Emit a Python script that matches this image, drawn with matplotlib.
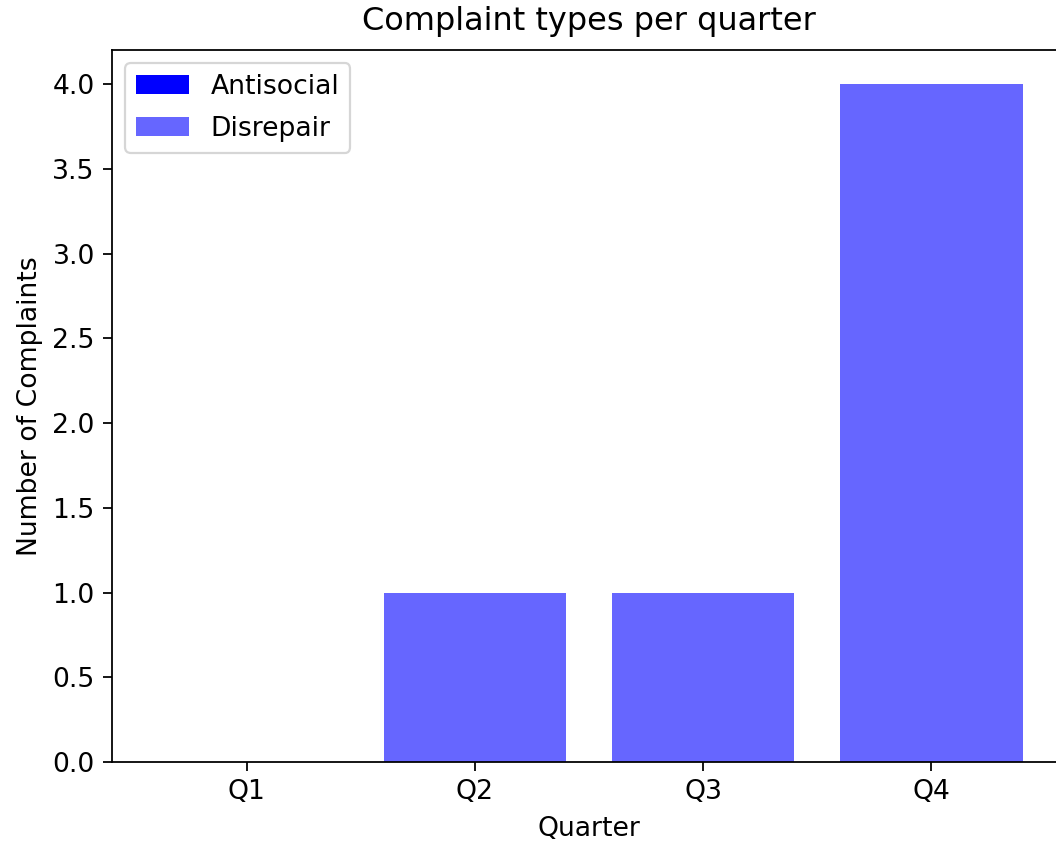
import matplotlib
matplotlib.use("Agg")
import matplotlib.pyplot as plt

quarters = ["Q1", "Q2", "Q3", "Q4"]
antisocial = [0, 0, 0, 0]
disrepair = [0, 1, 1, 4]

fig = plt.figure(figsize=(6.6, 5.3125), dpi=160)
ax = fig.add_axes([0.106, 0.1035, 0.9035, 0.8375])

ax.bar(quarters, antisocial, color="blue", label="Antisocial")
ax.bar(quarters, disrepair, bottom=antisocial, color="blue", alpha=0.6, label="Disrepair")

ax.set_title("Complaint types per quarter", fontsize=14.4, pad=9)
ax.set_xlabel("Quarter", fontsize=12, labelpad=5)
ax.set_ylabel("Number of Complaints", fontsize=12)
ax.tick_params(labelsize=12, length=4.2)
ax.legend(loc="upper left", fontsize=12, labelspacing=0.6)

fig.savefig("out.png", dpi=160)
